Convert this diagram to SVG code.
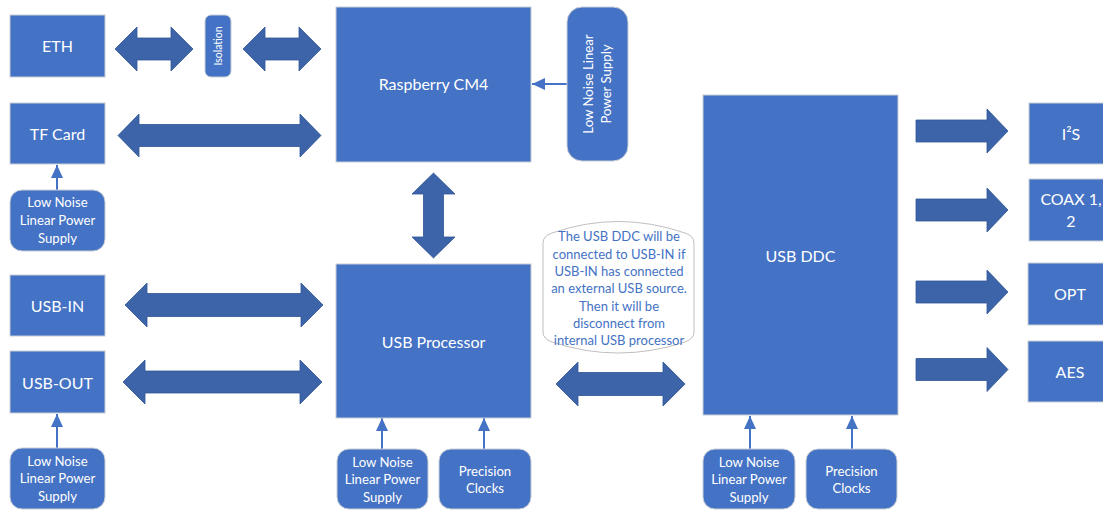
<svg xmlns="http://www.w3.org/2000/svg" width="1103" height="510" viewBox="0 0 1103 510">
<style>
.box{fill:#4472C4;stroke:#C9CED6;stroke-width:1}
.t{fill:#fff;font-family:Lato,"Open Sans",sans-serif;text-anchor:middle}
.big{font-size:16px}
.sm{font-size:13.2px}
.ar{fill:#3D64A8;stroke:#2F5597;stroke-width:0.8}
.ln{stroke:#4472C4;stroke-width:2;fill:none;marker-end:url(#ah)}
.note{fill:#fff;stroke:#BFBFBF;stroke-width:1}
.nt{fill:#4472C4;font-family:Lato,"Open Sans",sans-serif;font-size:13px;text-anchor:middle}
</style>
<defs>
<marker id="ah" markerUnits="userSpaceOnUse" markerWidth="14" markerHeight="12" refX="13" refY="6" orient="auto">
<path d="M0,0 L13,6 L0,12 z" fill="#4472C4"/>
</marker>
</defs>
<rect width="1103" height="510" fill="#fff"/>
<g id="connectors">
<polygon class="ar" points="115,49 137,27 137,38 171,38 171,27 193,49 171,71 171,60 137,60 137,71"/>
<polygon class="ar" points="243,49 265,27 265,38 299,38 299,27 321,49 299,71 299,60 265,60 265,71"/>
<polygon class="ar" points="118,135.5 139,114 139,124.5 300,124.5 300,114 321,135.5 300,157 300,146.5 139,146.5 139,157"/>
<polygon class="ar" points="125,305 147,283 147,293.5 301,293.5 301,283 323,305 301,327 301,316.5 147,316.5 147,327"/>
<polygon class="ar" points="123,382 145,360 145,371 300,371 300,360 322,382 300,404 300,393 145,393 145,404"/>
<polygon class="ar" points="433.5,173 455,194 443.5,194 443.5,237 455,237 433.5,258 412,237 423.5,237 423.5,194 412,194"/>
<polygon class="ar" points="556,384 578,362 578,372.5 663,372.5 663,362 685,384 663,406 663,395.5 578,395.5 578,406"/>
<polygon class="ar" points="916,120 987,120 987,109 1008,131 987,153 987,142 916,142"/>
<polygon class="ar" points="916,199 987,199 987,188 1008,210 987,232 987,221 916,221"/>
<polygon class="ar" points="916,281 987,281 987,270 1008,292 987,314 987,303 916,303"/>
<polygon class="ar" points="916,358.5 987,358.5 987,347.5 1008,369.5 987,391.5 987,380.5 916,380.5"/>
<line class="ln" x1="57" y1="190" x2="57" y2="165"/>
<line class="ln" x1="57" y1="448" x2="57" y2="414"/>
<line class="ln" x1="567" y1="84" x2="532" y2="84"/>
<line class="ln" x1="382" y1="449" x2="382" y2="418"/>
<line class="ln" x1="484" y1="449" x2="484" y2="418"/>
<line class="ln" x1="750" y1="449" x2="750" y2="416"/>
<line class="ln" x1="852" y1="449" x2="852" y2="416"/>
</g>
<g id="eth"><rect class="box" x="10" y="15" width="95" height="62"/><text class="t big" x="57.5" y="51.5">ETH</text></g>
<g id="isolation"><rect class="box" x="205" y="15" width="26" height="62" rx="6"/><text class="t" font-size="10.5" transform="translate(221.5,46) rotate(-90)" y="0">Isolation</text></g>
<g id="tfcard"><rect class="box" x="10" y="103" width="95" height="61"/><text class="t big" x="57.5" y="139.5">TF Card</text></g>
<g id="tf-psu"><rect class="box" x="10" y="190" width="95" height="61" rx="12"/><text class="t sm" x="57.5" y="207">Low Noise</text><text class="t sm" x="57.5" y="225">Linear Power</text><text class="t sm" x="57.5" y="243">Supply</text></g>
<g id="cm4"><rect class="box" x="336" y="7" width="195" height="155"/><text class="t big" x="433.5" y="89.5">Raspberry CM4</text></g>
<g id="cm4-psu"><rect class="box" x="567" y="7" width="61" height="154" rx="15"/><text class="t sm" transform="translate(597,84) rotate(-90)"><tspan x="0" y="-4">Low Noise Linear</tspan><tspan x="0" y="14">Power Supply</tspan></text></g>
<g id="usbin"><rect class="box" x="10" y="275" width="95" height="61"/><text class="t big" x="57.5" y="311.5">USB-IN</text></g>
<g id="usbout"><rect class="box" x="10" y="351" width="95" height="62"/><text class="t big" x="57.5" y="388.5">USB-OUT</text></g>
<g id="usbout-psu"><rect class="box" x="10" y="448" width="95" height="61" rx="12"/><text class="t sm" x="57.5" y="466">Low Noise</text><text class="t sm" x="57.5" y="483">Linear Power</text><text class="t sm" x="57.5" y="501">Supply</text></g>
<g id="usbproc"><rect class="box" x="336" y="264" width="195" height="154"/><text class="t big" x="433.5" y="347.5">USB Processor</text></g>
<g id="proc-psu"><rect class="box" x="337" y="449" width="91" height="60" rx="12"/><text class="t sm" x="382.5" y="467">Low Noise</text><text class="t sm" x="382.5" y="484">Linear Power</text><text class="t sm" x="382.5" y="502">Supply</text></g>
<g id="proc-clk"><rect class="box" x="439" y="449" width="92" height="60" rx="12"/><text class="t sm" x="485" y="476">Precision</text><text class="t sm" x="485" y="493">Clocks</text></g>
<g id="note"><path class="note" d="M543,243 Q543,236 552,233 Q618,210 685,233 Q694,236 694,243 L694,332 Q694,339 685,342 Q618,364 552,342 Q543,339 543,332 Z"/>
<text class="nt" x="619" y="241">The USB DDC will be</text>
<text class="nt" x="619" y="259">connected to USB-IN if</text>
<text class="nt" x="619" y="276">USB-IN has connected</text>
<text class="nt" x="619" y="293">an external USB source.</text>
<text class="nt" x="619" y="311">Then it will be</text>
<text class="nt" x="619" y="328">disconnect from</text>
<text class="nt" x="619" y="345">internal USB processor</text></g>
<g id="usbddc"><rect class="box" x="703" y="95" width="195" height="320"/><text class="t big" x="800.5" y="261.5">USB DDC</text></g>
<g id="ddc-psu"><rect class="box" x="703" y="449" width="92" height="60" rx="12"/><text class="t sm" x="749" y="467">Low Noise</text><text class="t sm" x="749" y="484">Linear Power</text><text class="t sm" x="749" y="502">Supply</text></g>
<g id="ddc-clk"><rect class="box" x="806" y="449" width="91" height="60" rx="12"/><text class="t sm" x="851.5" y="476">Precision</text><text class="t sm" x="851.5" y="493">Clocks</text></g>
<g id="i2s"><rect class="box" x="1029" y="103" width="85" height="61"/><text class="t big" x="1071" y="139.5">I²S</text></g>
<g id="coax"><rect class="box" x="1029" y="179" width="85" height="62"/><text class="t big" x="1071" y="205">COAX 1,</text><text class="t big" x="1071" y="227">2</text></g>
<g id="opt"><rect class="box" x="1028" y="263" width="85" height="62"/><text class="t big" x="1070" y="299.5">OPT</text></g>
<g id="aes"><rect class="box" x="1028" y="341" width="85" height="61"/><text class="t big" x="1070" y="377.5">AES</text></g>
</svg>
